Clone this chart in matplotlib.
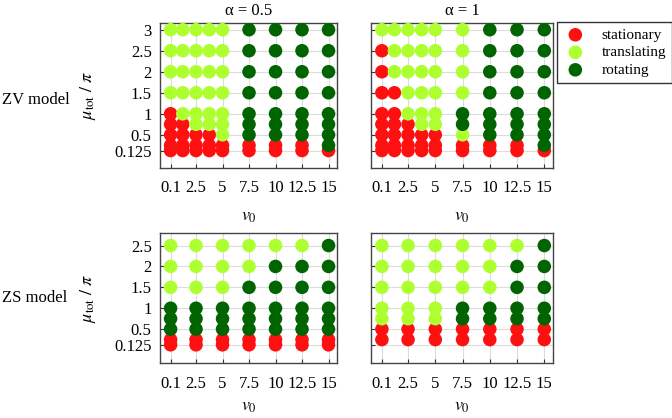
import matplotlib
matplotlib.use('Agg')
import matplotlib.pyplot as plt
import numpy as np

plt.rcParams['font.family'] = ['Liberation Serif', 'DejaVu Serif']
plt.rcParams['mathtext.fontset'] = 'stix'
plt.rcParams['font.size'] = 12

# data: S = stationary, T = translating, R = rotating
zv_v0 = [0.1, 1.25, 2.5, 3.75, 5, 7.5, 10, 12.5, 15]
zv_mu = [3, 2.5, 2, 1.5, 1, 0.75, 0.5, 0.25, 0.125]
zv_a05 = ['TTTTTRRRR',
          'TTTTTRRRR',
          'TTTTTRRRR',
          'TTTTTRRRR',
          'STTTTRRRR',
          'SSTTTRRRR',
          'SSSSTRRRR',
          'SSSSSSSSR',
          'SSSSSSSSS']
zv_a1 = ['TTTTTTRRR',
         'STTTTTRRR',
         'STTTTTRRR',
         'SSTTTTRRR',
         'SSTTTRRRR',
         'SSSTTRRRR',
         'SSSSSTRRR',
         'SSSSSSSSR',
         'SSSSSSSSS']

zs_v0 = [0.1, 2.5, 5, 7.5, 10, 12.5, 15]
zs_mu_a05 = [2.5, 2, 1.5, 1, 0.75, 0.5, 0.25, 0.125]
zs_a05 = ['TTTTTTR',
          'TTTTRRR',
          'TTTRRRR',
          'RRRRRRR',
          'RRRRRRR',
          'RRRRRRR',
          'SSSSSSS',
          'SSSSSSS']
zs_mu_a1 = [2.5, 2, 1.5, 1, 0.75, 0.5, 0.25]
zs_a1 = ['TTTTTTR',
         'TTTTTRR',
         'TTTTTRR',
         'TTTRRRR',
         'TTTRRRR',
         'SSSSSSS',
         'SSSSSSS']

xticks = [0.1, 2.5, 5, 7.5, 10, 12.5, 15]
xticklabels = ['0.1', '2.5', '5', '7.5', '10', '12.5', '15']
yticks_zv = [0.125, 0.5, 1, 1.5, 2, 2.5, 3]
yticks_zs = [0.125, 0.5, 1, 1.5, 2, 2.5]

states = ['S', 'T', 'R']
names = {'S': 'stationary', 'T': 'translating', 'R': 'rotating'}
colors = {'S': '#ff1010', 'T': '#adff2f', 'R': '#006400'}

W, H = 672, 418
fig = plt.figure(figsize=(W / 100, H / 100), dpi=100)


def box(l, r, t, b):
    return [l / W, 1 - b / H, (r - l) / W, (b - t) / H]


def panel(rect, v0, mu, grid, yticks, ylim, title=None, ylabel=False, xpad=6):
    ax = fig.add_axes(rect)
    for s in states:
        xs, ys = [], []
        for i, row in enumerate(grid):
            for j, c in enumerate(row):
                if c == s:
                    xs.append(v0[j])
                    ys.append(mu[i])
        ax.scatter(xs, ys, s=95, color=colors[s], edgecolors='none',
                   label=names[s], zorder=3)
    ax.set_xlim(-0.9, 15.8)
    ax.set_ylim(*ylim)
    ax.set_xticks(xticks)
    ax.set_xticklabels(xticklabels)
    ax.set_yticks(yticks)
    if ylabel:
        ax.set_yticklabels([str(t) for t in yticks])
        ax.set_ylabel(r'$\mu_{\rm tot}\ /\ \pi$', fontsize=13)
        ax.yaxis.set_label_coords(-0.35, 0.5)
    else:
        ax.set_yticklabels([])
    ax.grid(True, color='#dcdcdc', lw=0.8, zorder=0)
    ax.set_axisbelow(True)
    ax.tick_params(direction='in', length=3, width=0.8, pad=9,
                   color='#333333', labelsize=12)
    ax.tick_params(axis='y', pad=6)
    for sp in ax.spines.values():
        sp.set_color('#444444')
        sp.set_linewidth(1.0)
    ax.set_xlabel(r'$v_0$', fontsize=13, labelpad=xpad)
    if title:
        ax.set_title(title, fontsize=12, pad=6)
    return ax


ax1 = panel(box(160, 337, 23, 168), zv_v0, zv_mu, zv_a05, yticks_zv,
            (-0.29, 3.16), title='α = 0.5', ylabel=True, xpad=8)
ax2 = panel(box(371, 553, 23, 168), zv_v0, zv_mu, zv_a1, yticks_zv,
            (-0.29, 3.16), title='α = 1', xpad=8)
ax3 = panel(box(160, 337, 233, 363), zs_v0, zs_mu_a05, zs_a05, yticks_zs,
            (-0.31, 2.8), ylabel=True, xpad=5)
ax4 = panel(box(371, 553, 233, 363), zs_v0, zs_mu_a1, zs_a1, yticks_zs,
            (-0.31, 2.8), xpad=5)

fig.text(2 / W, 1 - 100 / H, 'ZV model', ha='left', va='center', fontsize=12)
fig.text(2 / W, 1 - 298 / H, 'ZS model', ha='left', va='center', fontsize=12)

leg = ax2.legend(loc='upper left', bbox_to_anchor=(557 / W, 1 - 22 / H),
                 bbox_transform=fig.transFigure, frameon=True, fancybox=False,
                 edgecolor='black', borderaxespad=0, handletextpad=0.9,
                 handlelength=1.6, labelspacing=0.25, borderpad=0.4,
                 fontsize=11)
leg.get_frame().set_linewidth(1.0)

fig.savefig('out.png', dpi=100)
